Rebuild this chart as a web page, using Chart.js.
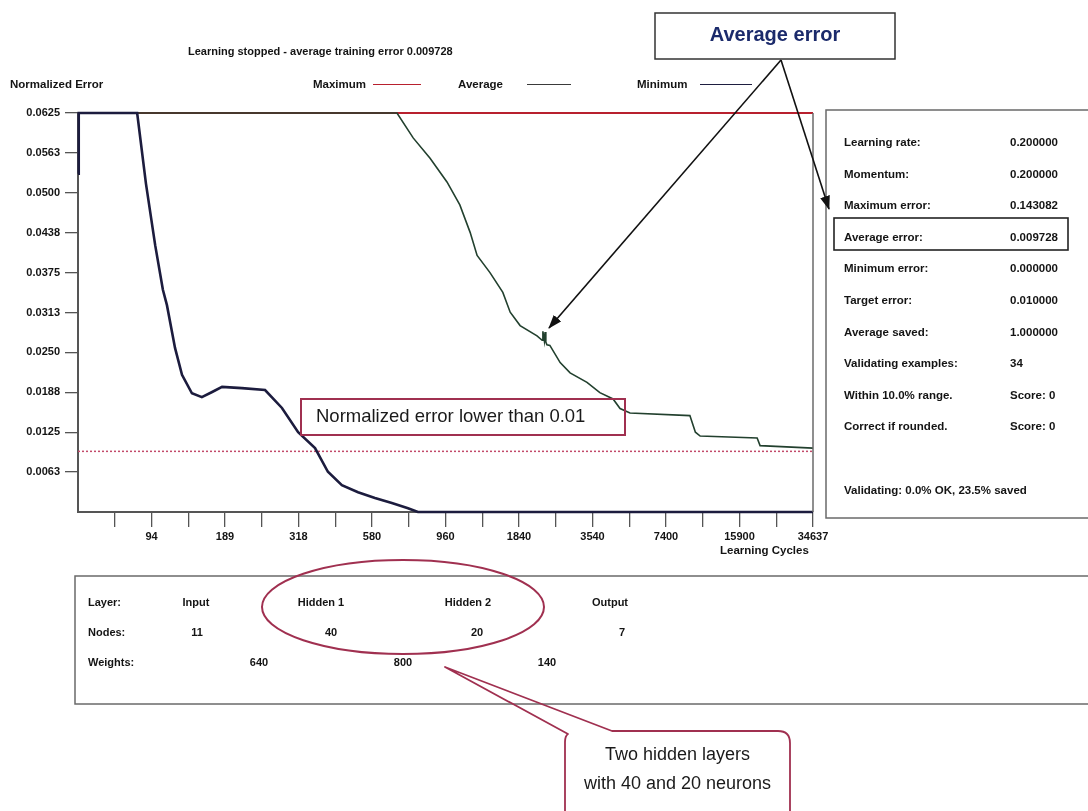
<!DOCTYPE html>
<html><head><meta charset="utf-8">
<script src="https://cdn.jsdelivr.net/npm/chart.js@4.4.0/dist/chart.umd.min.js"></script>
<style>
body{margin:0;background:#fff;}
#wrap{position:relative;width:1088px;height:811px;overflow:hidden;font-family:'Liberation Sans',Arial,sans-serif;background:#fff;}
#c{position:absolute;left:0;top:0;}
#ov{position:absolute;left:0;top:0;pointer-events:none;}
.t{position:absolute;white-space:nowrap;font-weight:bold;color:#141414;line-height:1;}
.n{position:absolute;white-space:nowrap;color:#1a1a1a;line-height:1;}
</style></head><body>
<div id="wrap">
<canvas id="c" width="1088" height="811"></canvas>
<svg id="ov" width="1088" height="811" xmlns="http://www.w3.org/2000/svg">
  <defs>
    <marker id="ah" markerWidth="14" markerHeight="10" refX="13" refY="5" orient="auto" markerUnits="userSpaceOnUse">
      <path d="M0,0 L14,5 L0,10 Z" fill="#111"/>
    </marker>
  </defs>
  <rect x="826" y="110" width="280" height="408" fill="none" stroke="#6a6a6a" stroke-width="1.5"/>
  <rect x="834" y="218" width="234" height="32" fill="none" stroke="#222" stroke-width="1.6"/>
  <rect x="75" y="576" width="1030" height="128" fill="none" stroke="#6a6a6a" stroke-width="1.5"/>
  <rect x="655" y="13" width="240" height="46" fill="#fff" stroke="#333" stroke-width="1.5"/>
  <line x1="781" y1="60" x2="549" y2="328" stroke="#111" stroke-width="1.6" marker-end="url(#ah)"/>
  <line x1="781" y1="60" x2="829" y2="209" stroke="#111" stroke-width="1.6" marker-end="url(#ah)"/>
  <rect x="301" y="399" width="324" height="36" fill="none" stroke="#a03050" stroke-width="2"/>
  <ellipse cx="403" cy="607" rx="141" ry="47" fill="none" stroke="#a03050" stroke-width="2"/>
  <path d="M445,667 L612,731 L778,731 Q790,731 790,743 L790,818 L565,818 L565,742 Q565,736 568,734 Z" fill="none" stroke="#a03050" stroke-width="1.8" stroke-linejoin="round"/>
</svg>
<div class="t" style="left:188px;top:46px;font-size:11px;">Learning stopped - average training error 0.009728</div>
<div class="t" style="left:10px;top:79px;font-size:11.5px;">Normalized Error</div>
<div id="legend"></div>
<div class="t" style="left:655px;top:24px;width:240px;text-align:center;font-size:20px;color:#1b2a6b;">Average error</div>
<div class="n" style="left:316px;top:407px;font-size:18.5px;">Normalized error lower than 0.01</div>
<div class="t" style="left:720px;top:545px;font-size:11.5px;">Learning Cycles</div>
<div id="info"></div>
<div id="layers"></div>
<div class="n" style="left:565px;top:740px;width:225px;text-align:center;font-size:18px;line-height:29px;">Two hidden layers<br>with 40 and 20 neurons</div>
</div>
<script>
// ---- data ----
const yTickValues = [0.00625,0.0125,0.01875,0.025,0.03125,0.0375,0.04375,0.05,0.05625,0.0625];
const yTickLabels = ["0.0063","0.0125","0.0188","0.0250","0.0313","0.0375","0.0438","0.0500","0.0563","0.0625"];
const xTickPositions = [1,2,3,4,5,6,7,8,9,10,11,12,13,14,15,16,17,18,19,20];
const xTickLabels = ["94","189","318","580","960","1840","3540","7400","15900","34637"];

const maxX = [0, 20];
const maxY = [0.0625, 0.0625];

const avgX = [0, 8.68, 9.12, 9.58, 10.04, 10.39, 10.67, 10.86, 11.21, 11.56, 11.76, 12.03, 12.49, 12.63, 12.65, 12.69, 12.71, 12.73, 12.76, 12.84, 13.12, 13.39, 13.85, 14.20, 14.56, 14.75, 15.02, 16.65, 16.80, 16.93, 18.48, 18.56, 20];
const avgY = [0.0625, 0.0625, 0.0586, 0.0554, 0.0517, 0.0481, 0.0438, 0.0402, 0.0375, 0.0344, 0.0313, 0.0292, 0.0276, 0.0269, 0.0283, 0.0268, 0.0282, 0.0266, 0.0262, 0.0261, 0.0234, 0.0218, 0.0203, 0.0187, 0.0177, 0.0162, 0.0155, 0.0151, 0.0125, 0.0119, 0.0116, 0.0104, 0.0100];

const minX = [0, 0.02, 1.55, 1.61, 1.85, 2.10, 2.31, 2.42, 2.64, 2.83, 3.10, 3.37, 3.65, 3.92, 4.46, 5.09, 5.55, 5.99, 6.45, 6.80, 7.18, 7.62, 8.08, 8.54, 8.98, 9.25, 20];
const minY = [0.0530, 0.0625, 0.0625, 0.0625, 0.0514, 0.0418, 0.0348, 0.0324, 0.0257, 0.0215, 0.0186, 0.0180, 0.0188, 0.0196, 0.0194, 0.0191, 0.0163, 0.0125, 0.0100, 0.0063, 0.0042, 0.0031, 0.0022, 0.0014, 0.0006, 0, 0];

const targetX = [0, 20];
const targetY = [0.0095, 0.0095];

const legendNames = ["Maximum", "Average", "Minimum"];
const legendColors = ["#b8202e", "#3a3a3a", "#1e1e40"];

const infoLabels = ["Learning rate:","Momentum:","Maximum error:","Average error:","Minimum error:","Target error:","Average saved:","Validating examples:","Within 10.0% range.","Correct if rounded."];
const infoValues = ["0.200000","0.200000","0.143082","0.009728","0.000000","0.010000","1.000000","34","Score: 0","Score: 0"];
const infoFooter = "Validating: 0.0% OK,  23.5% saved";

const layerNames = ["Input","Hidden 1","Hidden 2","Output"];
const nodeCounts = ["11","40","20","7"];
const weightCounts = ["640","800","140"];

// ---- overlay text ----
const pts = (xs, ys) => xs.map((x, i) => ({x, y: ys[i]}));
(function(){
  const lg = document.getElementById('legend');
  const lx = [313, 458, 637], lineX = [373, 527, 700], lineW = [48, 44, 52];
  let h = '';
  legendNames.forEach((n, i) => {
    h += `<div class="t" style="left:${lx[i]}px;top:79px;font-size:11.5px;">${n}</div>`;
    h += `<div style="position:absolute;left:${lineX[i]}px;top:84px;width:${lineW[i]}px;height:0;border-top:1.6px solid ${legendColors[i]};"></div>`;
  });
  lg.innerHTML = h;
  const inf = document.getElementById('info');
  h = '';
  infoLabels.forEach((l, i) => {
    const y = 137 + i * 31.6;
    h += `<div class="t" style="left:844px;top:${y}px;font-size:11.5px;">${l}</div>`;
    h += `<div class="t" style="left:1010px;top:${y}px;font-size:11.5px;">${infoValues[i]}</div>`;
  });
  h += `<div class="t" style="left:844px;top:485px;font-size:11.5px;">${infoFooter}</div>`;
  inf.innerHTML = h;
  const ly = document.getElementById('layers');
  const cx = [196, 321, 468, 610], nx = [197, 331, 477, 622], wx = [259, 403, 547];
  h = `<div class="t" style="left:88px;top:597px;font-size:11px;">Layer:</div>`;
  h += `<div class="t" style="left:88px;top:627px;font-size:11px;">Nodes:</div>`;
  h += `<div class="t" style="left:88px;top:657px;font-size:11px;">Weights:</div>`;
  layerNames.forEach((n, i) => { h += `<div class="t" style="left:${cx[i]-40}px;width:80px;text-align:center;top:597px;font-size:11px;">${n}</div>`; });
  nodeCounts.forEach((n, i) => { h += `<div class="t" style="left:${nx[i]-40}px;width:80px;text-align:center;top:627px;font-size:11px;">${n}</div>`; });
  weightCounts.forEach((n, i) => { h += `<div class="t" style="left:${wx[i]-40}px;width:80px;text-align:center;top:657px;font-size:11px;">${n}</div>`; });
  ly.innerHTML = h;
})();

// ---- chart ----
Chart.defaults.font.family = "'Liberation Sans', Arial, sans-serif";
const frame = {
  id: 'frame',
  afterDraw(chart) {
    const {ctx, chartArea: a} = chart;
    ctx.save();
    ctx.strokeStyle = '#6a6a6a';
    ctx.lineWidth = 1.5;
    ctx.beginPath();
    ctx.moveTo(a.right, a.top); ctx.lineTo(a.right, a.bottom);
    ctx.stroke();
    ctx.restore();
  }
};
new Chart(document.getElementById('c'), {
  type: 'line',
  data: {
    datasets: [
      {label: 'Minimum', data: pts(minX, minY), borderColor: '#1c1c3e', borderWidth: 2.6, order: 1},
      {label: 'Average', data: pts(avgX, avgY), borderColor: '#22402e', borderWidth: 1.6, order: 2},
      {label: 'Maximum', data: pts(maxX, maxY), borderColor: '#b8202e', borderWidth: 2.2, order: 3},
      {label: 'Target', data: pts(targetX, targetY), borderColor: '#c24a6a', borderWidth: 1.5, borderDash: [2, 2], order: 4}
    ]
  },
  options: {
    responsive: false,
    animation: false,
    devicePixelRatio: 1,
    elements: {point: {radius: 0}, line: {tension: 0, fill: false}},
    datasets: {line: {clip: false}},
    layout: {padding: {left: 0, top: 113, right: 275, bottom: 0}},
    plugins: {legend: {display: false}, tooltip: {enabled: false}, title: {display: false}},
    scales: {
      x: {
        type: 'linear', min: 0, max: 20,
        afterBuildTicks: s => { s.ticks = xTickPositions.map(v => ({value: v})); },
        afterFit: s => { s.height = 811 - 512; },
        ticks: {
          autoSkip: false, maxRotation: 0, padding: 3, color: '#141414',
          font: {size: 11, weight: 'bold'},
          callback: v => (v % 2 === 0 ? xTickLabels[v / 2 - 1] : '')
        },
        grid: {drawOnChartArea: false, drawTicks: true, tickLength: 15, color: '#555', lineWidth: 1.3},
        border: {display: true, color: '#555', width: 2}
      },
      y: {
        type: 'linear', min: 0, max: 0.0625,
        afterBuildTicks: s => { s.ticks = yTickValues.map(v => ({value: v})); },
        afterFit: s => { s.width = 78; },
        ticks: {
          padding: 5, color: '#141414', font: {size: 11, weight: 'bold'},
          callback: (v, i) => yTickLabels[i]
        },
        grid: {drawOnChartArea: false, drawTicks: true, tickLength: 13, color: '#555', lineWidth: 1.3},
        border: {display: true, color: '#555', width: 2}
      }
    }
  },
  plugins: [frame]
});
</script>
</body></html>
